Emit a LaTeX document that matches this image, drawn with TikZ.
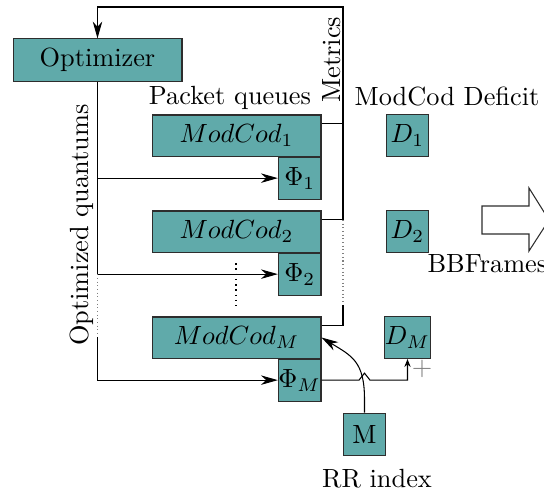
\documentclass[tikz,border=0pt]{standalone}
\usetikzlibrary{arrows.meta,calc,positioning}
\definecolor{boxfill}{RGB}{96,170,170}
\definecolor{boxline}{RGB}{45,45,45}
\begin{document}
\begin{tikzpicture}[x=0.38pt,y=-0.38pt,>={Stealth[length=6.4pt,width=3.6pt,inset=2pt]},
            box/.style={draw=boxline,fill=boxfill,inner sep=0pt},
            wide box/.style={box,minimum width=64.2pt,minimum height=15.6pt},
            small box/.style={box,minimum width=16.2pt,minimum height=16pt},
            plain text/.style={inner sep=0pt,anchor=base},
            gap line/.style={densely dotted,gray}]

        \useasboundingbox (0,0) rectangle (544,495);

        % Define boxes
        \node[wide box,minimum height=16pt] (opt) at (97.5,60) {Optimizer};
        \node[wide box] (m1) at (236.5,135.5) {$ModCod_1$};
        \node[wide box] (m2) at (236.5,231.5) {$ModCod_2$};
        \node[wide box] (mM) at (236.5,337.5) {$ModCod_M$};
        \node[small box,anchor=north east] (p1) at (m1.south east) {$\Phi_1$};
        \node[small box,anchor=north east] (p2) at (m2.south east) {$\Phi_2$};
        \node[small box,anchor=north east] (pM) at (mM.south east) {$\Phi_M$};
        \node[small box] (d1) at (407.5,135.5) {$D_1$};
        \node[small box] (d2) at (407.5,231.5) {$D_2$};
        \node[small box] (dM) at (407.5,337.5) {$D_M$};
        \node[small box,minimum height=16.3pt] (M) at (364.5,434.5) {M};

        % Labels
        \node[plain text] (queues) at (230,104) {Packet queues};
        \node[plain text] (deficit) at (447,105) {ModCod Deficit};
        \node[plain text,rotate=90] (metrics) at (340,59.5) {Metrics};
        \node[plain text,rotate=90] (quantums) at (88,225) {Optimized quantums};
        \node[plain text,anchor=base west] (frames) at (427,272) {BBFrames};
        \node[plain text] (rr) at (377,487) {RR index};
        \node[inner sep=0pt,text=gray] (plus) at (422,369) {$+$};

        % Output arrow
        \draw[boxline,fill=white] (482,206) -- (529,206) -- (529,188) -- (549,220)
            -- (529,251) -- (529,234) -- (482,234) -- cycle;

        % Skipped queues
        \draw[line width=0.6pt,dash pattern=on 0.6pt off 1.4pt] (236,263) -- (236,306);

        % Metrics feedback
        \coordinate (bus) at (343,7);
        \coordinate (rgap) at (343,305);
        \coordinate (lgap) at (97.5,337);
        \draw[->] ($(m1.north east)+(0,9.5)$) coordinate (t1) -- (t1 -| bus) -- (bus) -| (opt.north);
        \draw ($(m2.north east)+(0,9.5)$) coordinate (t2) -- (t2 -| bus) -- (t1 -| bus);
        \draw[gap line] (t2 -| bus) -- (rgap);
        \draw ($(mM.north east)+(0,9.5)$) coordinate (tM) -- (tM -| bus) -- (rgap);

        % Optimized quantums
        \draw[->] (opt.south) |- (p1.west);
        \draw[->] (opt.south) |- (p2.west);
        \draw[gap line] (p2.west -| opt.south) -- (lgap);
        \draw[->] (lgap) |- (pM.west);

        % Round robin
        \draw[-{Stealth[length=3pt,width=2.4pt]}] (pM.east) -- ($(pM.east -| M.north)+(-5.5,0)$)
            -- ++(5.5,-7) -- ++(5.5,7) -| (dM.south);
        \draw[->] (M.north) -- ++(0,-13) .. controls ++(0,-38) and (352,356) .. (mM.east);

        \end{tikzpicture}
\end{document}
